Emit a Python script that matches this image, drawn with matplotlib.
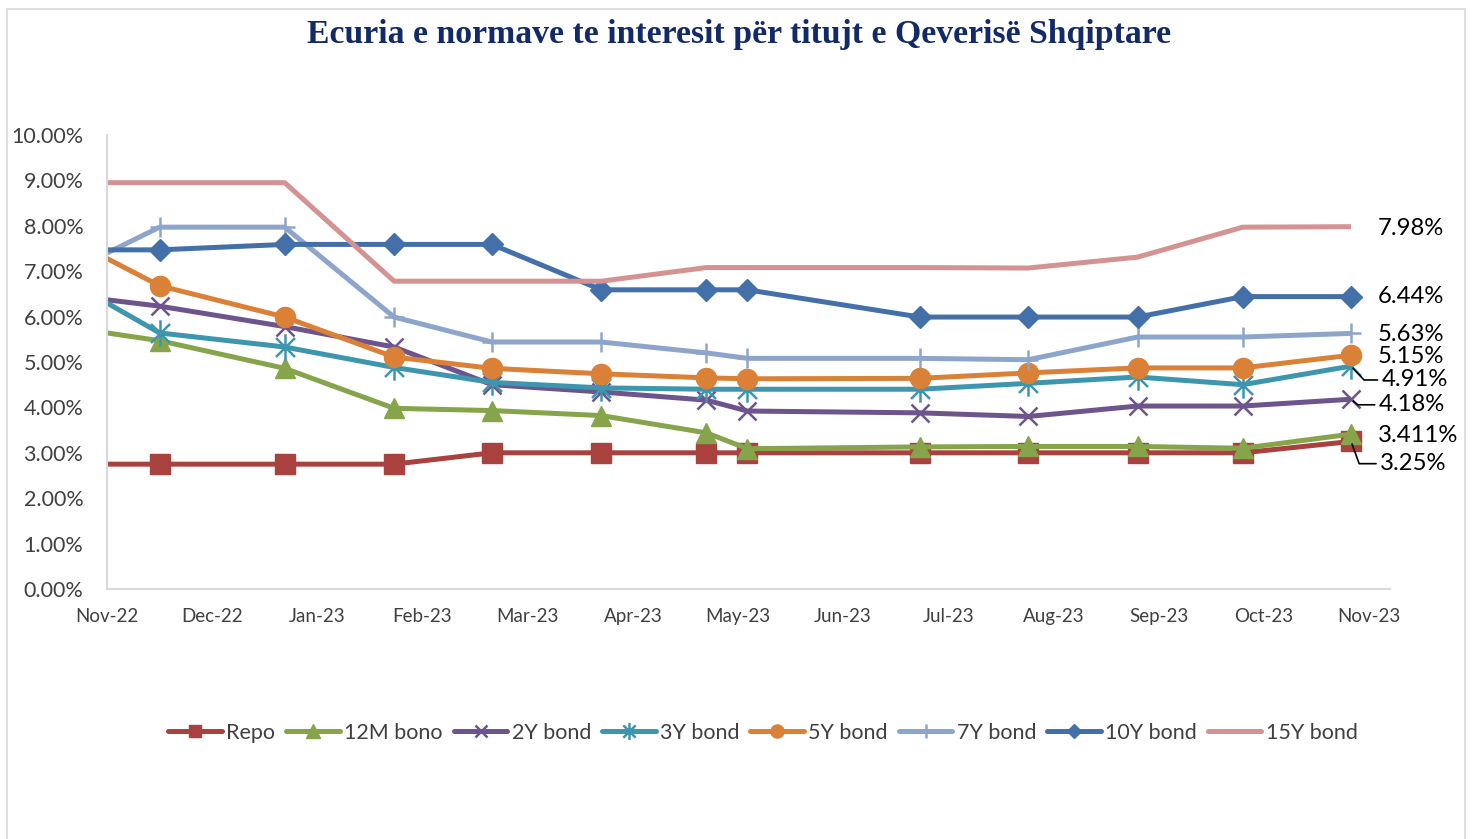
import matplotlib
matplotlib.use("Agg")
import matplotlib.pyplot as plt
from matplotlib.patches import Rectangle
from matplotlib.path import Path

# months since Nov-22 of each observation (auction dates are uneven)
x_pos = [0, 0.50, 1.69, 2.73, 3.66, 4.70, 5.70, 6.09, 7.73, 8.76, 9.80, 10.80, 11.83]
month_labels = ["Nov-22", "Dec-22", "Jan-23", "Feb-23", "Mar-23", "Apr-23", "May-23",
                "Jun-23", "Jul-23", "Aug-23", "Sep-23", "Oct-23", "Nov-23"]

repo = [2.75, 2.75, 2.75, 2.75, 3.00, 3.00, 3.00, 3.00, 3.00, 3.00, 3.00, 3.00, 3.25]
bono_12m = [5.64, 5.47, 4.86, 3.98, 3.93, 3.82, 3.44, 3.09, 3.13, 3.14, 3.14, 3.10, 3.411]
bond_2y = [6.37, 6.23, 5.78, 5.33, 4.50, 4.34, 4.16, 3.92, 3.88, 3.80, 4.03, 4.03, 4.18]
bond_3y = [6.30, 5.64, 5.33, 4.88, 4.55, 4.43, 4.40, 4.40, 4.40, 4.53, 4.67, 4.50, 4.91]
bond_5y = [7.28, 6.68, 5.99, 5.11, 4.86, 4.74, 4.65, 4.63, 4.64, 4.76, 4.87, 4.87, 5.15]
bond_7y = [7.40, 7.97, 7.97, 5.99, 5.44, 5.44, 5.20, 5.08, 5.08, 5.05, 5.55, 5.55, 5.63]
bond_10y = [7.47, 7.47, 7.59, 7.59, 7.59, 6.59, 6.59, 6.59, 5.99, 5.99, 5.99, 6.44, 6.44]
bond_15y = [8.95, 8.95, 8.95, 6.78, 6.78, 6.78, 7.08, 7.08, 7.08, 7.07, 7.31, 7.97, 7.98]

names = ["Repo", "12M bono", "2Y bond", "3Y bond", "5Y bond", "7Y bond", "10Y bond", "15Y bond"]
end_labels = ["3.25%", "3.411%", "4.18%", "4.91%", "5.15%", "5.63%", "6.44%", "7.98%"]

# excel-style asterisk: an x with a vertical bar through it
star = Path([(0, -1), (0, 1), (-0.72, -0.72), (0.72, 0.72), (-0.72, 0.72), (0.72, -0.72)],
            [Path.MOVETO, Path.LINETO] * 3)

colors = ["#A9413F", "#86A44A", "#6E548D", "#3D96AE", "#DA8137", "#8EA5CB", "#4470A9", "#D49292"]
markers = ["s", "^", "x", star, "o", "+", "D", None]
msizes = [14, 15, 13, 19, 14.5, 15, 11.5, 0]
# label offsets (points) from the last point, and leader-line angle if any
label_off = [(21, -16), (19, -1), (20, -4), (22, -10), (19, -1), (19, -1), (19, 0), (19, -1)]
leader_ang = [-70, None, -40, -47, None, None, None, None]

series = [repo, bono_12m, bond_2y, bond_3y, bond_5y, bond_7y, bond_10y, bond_15y]

plt.rcParams["font.family"] = ["Lato", "DejaVu Sans"]

fig = plt.figure(figsize=(14.76, 8.39), dpi=100)
ax = fig.add_axes([107 / 1476, 1 - 589 / 839, (1390 - 107) / 1476, (589 - 135) / 839])

thin = ("x", "+")
for vals, name, c, m, ms in zip(series, names, colors, markers, msizes):
    mew = 1.8 if (m in thin or m is star) else 1
    ax.plot(x_pos, vals, color=c, lw=3.6, label=name, marker=m, markersize=ms,
            markevery=list(range(1, len(x_pos))), markeredgewidth=mew,
            markeredgecolor=c, markerfacecolor=c,
            solid_joinstyle="round", solid_capstyle="butt", clip_on=False)

for vals, lab, off, ang in zip(series, end_labels, label_off, leader_ang):
    arrow = None
    if ang is not None:
        arrow = dict(arrowstyle="-", color="black", lw=1.2, shrinkA=1, shrinkB=2,
                     connectionstyle=f"angle,angleA=0,angleB={ang},rad=0")
    ax.annotate(lab, xy=(x_pos[-1], vals[-1]), xytext=off, textcoords="offset points",
                ha="left", va="center", fontsize=17.2, color="black", arrowprops=arrow)

ax.set_xlim(0, 12.2)
ax.set_ylim(0, 10)
ax.set_xticks(range(len(month_labels)))
ax.set_xticklabels(month_labels)
ax.set_yticks(range(0, 11))
ax.set_yticklabels([f"{v:.2f}%" for v in range(0, 11)])
ax.tick_params(length=0, labelcolor="#404040")
ax.tick_params(axis="y", pad=17, labelsize=15.5)
ax.tick_params(axis="x", pad=14, labelsize=13.5)
for side in ("top", "right"):
    ax.spines[side].set_visible(False)
for side in ("left", "bottom"):
    ax.spines[side].set_color("#d9d9d9")
    ax.spines[side].set_linewidth(1.5)

fig.text(739 / 1476, 1 - 34 / 839, "Ecuria e normave te interesit për titujt e Qeverisë Shqiptare",
         ha="center", va="center", fontsize=24.3, fontweight="bold", color="#132A68",
         family="Liberation Serif")

leg = fig.legend(*ax.get_legend_handles_labels(), loc="center", ncol=8,
                 bbox_to_anchor=(763 / 1476, 1 - 733 / 839), frameon=False,
                 fontsize=15.5, handlelength=2.5, handletextpad=0.2, columnspacing=0.5,
                 labelcolor="#404040")
for h, ms in zip(leg.legend_handles, msizes):
    h.set_markevery([1])
    h.set_markersize(ms * 0.65)
    h.set_solid_capstyle("round")

fig.add_artist(Rectangle((7 / 1476, -0.02), (1465 - 7) / 1476, 1 - 9 / 839 + 0.02,
                         transform=fig.transFigure, fill=False, edgecolor="#d9d9d9", lw=1.2))

fig.savefig("out.png", dpi=100)
